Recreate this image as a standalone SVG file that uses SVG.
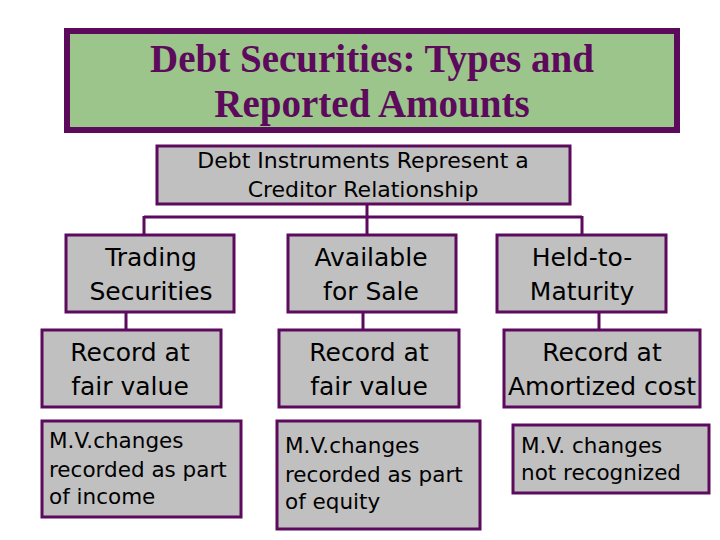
<svg xmlns="http://www.w3.org/2000/svg" width="720" height="540" viewBox="0 0 720 540">
<style>
.box{fill:#c0c0c0;stroke:#5c0a5c;stroke-width:3}
.t{font-family:"DejaVu Sans",Verdana,sans-serif;fill:#000}
.c{font-size:25px;text-anchor:middle}
.s{font-size:21.5px}
.r{font-size:22px;text-anchor:middle}
.title{font-family:"Liberation Serif","Times New Roman",serif;font-weight:bold;font-size:39px;fill:#5c0a5c;text-anchor:middle}
.conn{stroke:#5c0a5c;stroke-width:3;fill:none}
</style>
<rect width="720" height="540" fill="#fff"/>
<g id="title">
<rect x="67" y="31" width="610" height="99" fill="#9cc58b" stroke="#5c0a5c" stroke-width="6"/>
<text class="title" x="372" y="72">Debt Securities: Types and</text>
<text class="title" x="372" y="117">Reported Amounts</text>
</g>
<g id="connectors">
<path class="conn" d="M367 204V217M144 217H582M144 216V236M367 216V236M582 216V236"/>
<path class="conn" d="M126 312V330M363 312V330M599 312V330"/>
</g>
<g id="root">
<rect class="box" x="157" y="146" width="413" height="58"/>
<text class="t r" x="363" y="168">Debt Instruments Represent a</text>
<text class="t r" x="363" y="197">Creditor Relationship</text>
</g>
<g id="trading">
<rect class="box" x="66" y="235" width="168" height="77"/>
<text class="t c" x="151" y="266">Trading</text>
<text class="t c" x="151" y="300">Securities</text>
</g>
<g id="afs">
<rect class="box" x="288" y="235" width="168" height="77"/>
<text class="t c" x="371" y="266">Available</text>
<text class="t c" x="371" y="300">for Sale</text>
</g>
<g id="htm">
<rect class="box" x="497" y="235" width="169" height="77"/>
<text class="t c" x="582" y="266">Held-to-</text>
<text class="t c" x="582" y="300">Maturity</text>
</g>
<g id="trading-record">
<rect class="box" x="42" y="330" width="179" height="77"/>
<text class="t c" x="130" y="361">Record at</text>
<text class="t c" x="130" y="395">fair value</text>
</g>
<g id="afs-record">
<rect class="box" x="279" y="330" width="180" height="77"/>
<text class="t c" x="369" y="361">Record at</text>
<text class="t c" x="369" y="395">fair value</text>
</g>
<g id="htm-record">
<rect class="box" x="504" y="330" width="196" height="77"/>
<text class="t c" x="602" y="361">Record at</text>
<text class="t c" x="602" y="395">Amortized cost</text>
</g>
<g id="trading-mv">
<rect class="box" x="42" y="421" width="199" height="96"/>
<text class="t s" x="49" y="448">M.V.changes</text>
<text class="t s" x="49" y="477">recorded as part</text>
<text class="t s" x="49" y="504">of income</text>
</g>
<g id="afs-mv">
<rect class="box" x="277" y="421" width="203" height="108"/>
<text class="t s" x="285" y="453">M.V.changes</text>
<text class="t s" x="285" y="482">recorded as part</text>
<text class="t s" x="285" y="509">of equity</text>
</g>
<g id="htm-mv">
<rect class="box" x="513" y="425" width="196" height="68"/>
<text class="t s" x="521" y="453">M.V. changes</text>
<text class="t s" x="521" y="480">not recognized</text>
</g>
</svg>
